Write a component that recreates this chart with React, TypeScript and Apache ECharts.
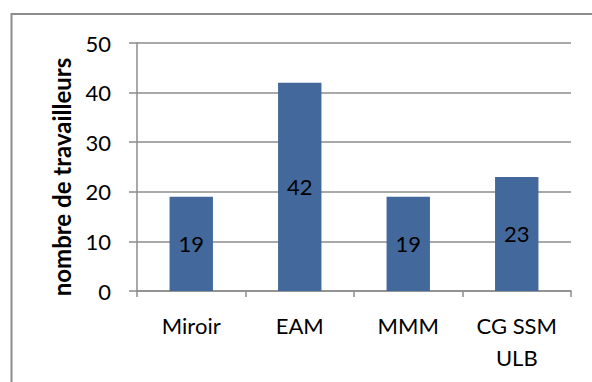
import React, { useEffect, useRef } from "react";
import * as echarts from "echarts";

const categories = ["Miroir", "EAM", "MMM", "CG SSM\nULB"];
const values = [19, 42, 19, 23];
const yMin = 0;
const yMax = 50;
const yInterval = 10;
const yAxisName = "nombre de travailleurs";

export default function App() {
  const ref = useRef<HTMLDivElement>(null);
  useEffect(() => {
    document.body.style.margin = "0";
    const chart = echarts.init(ref.current!, undefined, { renderer: "svg" });
    const font = "Lato, 'Open Sans', sans-serif";
    chart.setOption({
      animation: false,
      backgroundColor: "#ffffff",
      textStyle: { fontFamily: font },
      graphic: [
        {
          type: "rect",
          shape: { x: 11.5, y: 14, width: 600, height: 400 },
          style: { fill: "none", stroke: "#8c8c8c", lineWidth: 2 },
          silent: true,
        },
      ],
      grid: { left: 137, right: 21, top: 43, bottom: 91 },
      xAxis: {
        type: "category",
        data: categories,
        axisLine: { lineStyle: { color: "#8c8c8c", width: 1.5 } },
        axisTick: { show: true, length: 6, alignWithLabel: false, lineStyle: { color: "#8c8c8c", width: 1.5 } },
        axisLabel: { color: "#000", fontSize: 22, fontFamily: font, margin: 18, lineHeight: 32 },
      },
      yAxis: {
        type: "value",
        min: yMin,
        max: yMax,
        interval: yInterval,
        name: yAxisName,
        nameLocation: "middle",
        nameGap: 64,
        nameTextStyle: { color: "#000", fontSize: 24, fontWeight: "bold", fontFamily: font, padding: [0, 20, 0, 0] },
        axisLine: { show: true, lineStyle: { color: "#8c8c8c", width: 1.5 } },
        axisTick: { show: true, length: 8, lineStyle: { color: "#8c8c8c", width: 1.5 } },
        splitLine: { show: true, lineStyle: { color: "#8c8c8c", width: 1.5 } },
        axisLabel: { color: "#000", fontSize: 22, fontFamily: font, margin: 26 },
      },
      series: [
        {
          type: "bar",
          data: values,
          barCategoryGap: "60%",
          itemStyle: { color: "#43699c" },
          label: { show: true, position: "inside", color: "#000", fontSize: 22, fontFamily: font },
        },
      ],
    });
    return () => chart.dispose();
  }, []);
  return <div ref={ref} style={{ width: 592, height: 382 }} />;
}
